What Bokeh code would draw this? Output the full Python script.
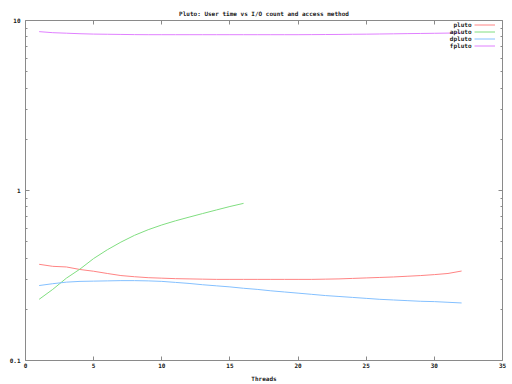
from bokeh.plotting import figure
from bokeh.models import (Range1d, LinearAxis, LogAxis, FixedTicker, CustomJSTickFormatter,
                          Legend, LegendItem, Label)
from bokeh.embed import file_html
from bokeh.resources import INLINE

# ---- data ----
threads = list(range(1, 33))
pluto = [0.368, 0.358, 0.355, 0.343, 0.335, 0.325, 0.316, 0.311, 0.307, 0.305,
         0.303, 0.302, 0.301, 0.300, 0.300, 0.300, 0.300, 0.300, 0.300, 0.300,
         0.300, 0.301, 0.302, 0.304, 0.306, 0.308, 0.310, 0.313, 0.316, 0.320,
         0.325, 0.336]
threads_a = list(range(1, 17))
apluto = [0.229, 0.262, 0.305, 0.345, 0.398, 0.448, 0.497, 0.545, 0.588, 0.627,
          0.663, 0.697, 0.732, 0.768, 0.805, 0.840]
dpluto = [0.276, 0.283, 0.289, 0.292, 0.293, 0.294, 0.295, 0.295, 0.294, 0.292,
          0.288, 0.284, 0.279, 0.275, 0.271, 0.266, 0.262, 0.257, 0.253, 0.249,
          0.245, 0.241, 0.238, 0.235, 0.232, 0.229, 0.227, 0.225, 0.223, 0.222,
          0.220, 0.218]
fpluto = [8.60, 8.48, 8.42, 8.36, 8.32, 8.30, 8.28, 8.26, 8.25, 8.25,
          8.25, 8.25, 8.25, 8.25, 8.25, 8.25, 8.25, 8.25, 8.25, 8.25,
          8.26, 8.27, 8.28, 8.30, 8.31, 8.33, 8.35, 8.37, 8.39, 8.41,
          8.43, 8.45]
series_names = ["pluto", "apluto", "dpluto", "fpluto"]
series_colors = ["#ff8484", "#80de80", "#84c0ff", "#e080ff"]
x_ticks = [0, 5, 10, 15, 20, 25, 30, 35]
y_ticks = [0.1, 1, 10]
title_text = "Pluto: User time vs I/O count and access method"
x_label = "Threads"

FONT = "DejaVu Sans Mono"
FS = "6px"
FRAME = "#8a8a8a"
TXT = "#202020"

p = figure(width=512, height=384, output_backend="svg", toolbar_location=None,
           y_axis_type="log", x_range=Range1d(0, 35), y_range=Range1d(0.1, 10),
           min_border_left=25, min_border_right=10, min_border_top=20, min_border_bottom=21,
           title=title_text)

p.title.align = "center"
p.title.text_font = FONT
p.title.text_font_size = FS
p.title.text_font_style = "bold"
p.title.text_color = TXT
p.title.standoff = 7
p.title.offset = 0

p.xgrid.visible = False
p.ygrid.visible = False
p.outline_line_color = FRAME
p.outline_line_width = 1
p.background_fill_color = "white"
p.border_fill_color = "white"

minor_y = [m * d for d in (0.1, 1) for m in range(2, 10)]
fmt = CustomJSTickFormatter(code="return tick.toString();")
blank = CustomJSTickFormatter(code="return '';")

def style(ax):
    ax.axis_line_color = None
    ax.major_tick_in = 4
    ax.major_tick_out = 0
    ax.minor_tick_in = 2
    ax.minor_tick_out = 0
    ax.major_tick_line_color = FRAME
    ax.minor_tick_line_color = FRAME
    ax.major_label_text_font = FONT
    ax.major_label_text_font_style = "bold"
    ax.major_label_text_color = TXT
    ax.major_label_text_font_size = FS

xa = p.xaxis[0]
xa.ticker = FixedTicker(ticks=x_ticks)
style(xa)
xa.minor_tick_line_color = None
xa.major_label_standoff = 2
xa.axis_label = x_label
xa.axis_label_text_font = FONT
xa.axis_label_text_font_size = FS
xa.axis_label_text_font_style = "bold"
xa.axis_label_text_color = TXT
xa.axis_label_standoff = 4

ya = p.yaxis[0]
ya.ticker = FixedTicker(ticks=y_ticks, minor_ticks=minor_y)
ya.formatter = fmt
style(ya)
ya.major_label_standoff = 5

top = LinearAxis(ticker=FixedTicker(ticks=x_ticks), formatter=blank)
style(top)
top.minor_tick_line_color = None
top.major_label_standoff = 0
p.add_layout(top, "above")

right = LogAxis(ticker=FixedTicker(ticks=y_ticks, minor_ticks=minor_y), formatter=blank)
style(right)
right.major_label_standoff = 0
p.add_layout(right, "right")

data = [(threads, pluto), (threads_a, apluto), (threads, dpluto), (threads, fpluto)]
items = []
for (xs, ys), name, col in zip(data, series_names, series_colors):
    r = p.line(xs, ys, line_color=col, line_width=1)
    items.append(LegendItem(label=" ", renderers=[r]))

# sample lines only; the names are drawn to their left, right-aligned (gnuplot style)
legend = Legend(items=items, location=(449, 311), orientation="vertical",
                glyph_width=21, glyph_height=7, label_height=7, label_width=0,
                label_standoff=0, spacing=0, padding=0, margin=0,
                background_fill_alpha=0, border_line_color=None,
                label_text_font=FONT, label_text_font_size=FS)
p.add_layout(legend, "center")

for i, name in enumerate(series_names):
    p.add_layout(Label(x=446, y=336 - 7 * i, x_units="screen", y_units="screen",
                       text=name, text_align="right", text_baseline="middle",
                       text_font=FONT, text_font_size=FS, text_font_style="bold",
                       text_color=TXT))

open("out.html", "w").write(file_html(p, INLINE))
